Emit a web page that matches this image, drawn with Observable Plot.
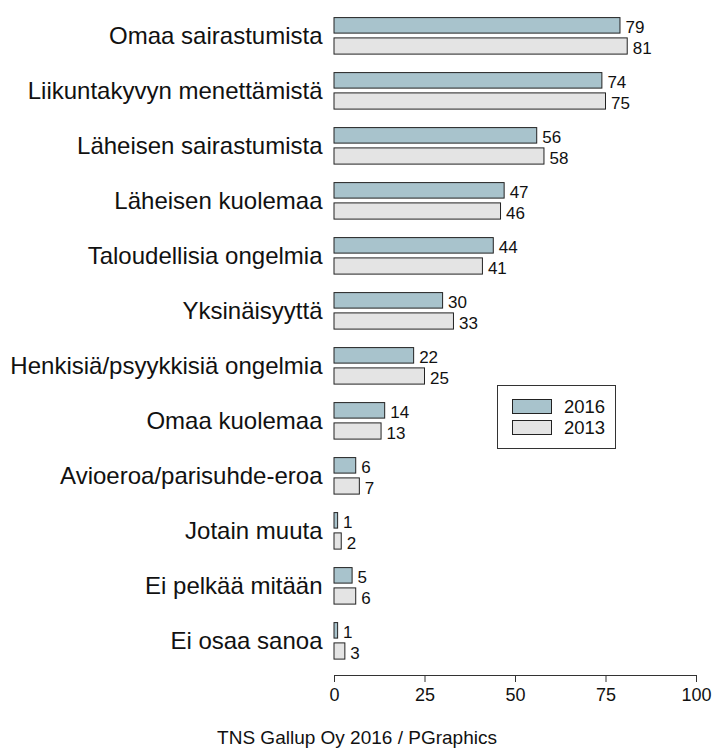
<!DOCTYPE html>
<html>
<head>
<meta charset="utf-8">
<script src="https://cdn.jsdelivr.net/npm/d3@7"></script>
<script src="https://cdn.jsdelivr.net/npm/@observablehq/plot@0.6"></script>
<style>
  html, body { margin: 0; padding: 0; background: #fff; }
  #wrap { position: relative; width: 712px; height: 752px; font-family: "Liberation Sans", Arial, Helvetica, sans-serif; color: #111; }
  #legend { position: absolute; left: 497px; top: 385px; width: 117px; height: 62px; border: 1px solid #333; background: #fff; box-sizing: content-box; }
  .lg-row { position: absolute; left: 14px; height: 15px; display: flex; align-items: center; font-size: 18.5px; }
  .lg-sw { width: 38px; height: 13px; border: 1px solid #222; margin-right: 12px; }
  #caption { position: absolute; left: 0; top: 727px; width: 714px; text-align: center; font-size: 19px; }
</style>
</head>
<body>
<div id="wrap">
  <div id="chart"></div>
  <div id="legend"></div>
  <div id="caption">TNS Gallup Oy 2016 / PGraphics</div>
</div>
<script>
const categories = [
  "Omaa sairastumista",
  "Liikuntakyvyn menettämistä",
  "Läheisen sairastumista",
  "Läheisen kuolemaa",
  "Taloudellisia ongelmia",
  "Yksinäisyyttä",
  "Henkisiä/psyykkisiä ongelmia",
  "Omaa kuolemaa",
  "Avioeroa/parisuhde-eroa",
  "Jotain muuta",
  "Ei pelkää mitään",
  "Ei osaa sanoa"
];
const values2016 = [79, 74, 56, 47, 44, 30, 22, 14, 6, 1, 5, 1];
const values2013 = [81, 75, 58, 46, 41, 33, 25, 13, 7, 2, 6, 3];
const years = ["2016", "2013"];
const colors = ["#a8c3cc", "#e4e4e4"];
const xTicks = [0, 25, 50, 75, 100];

const d2016 = categories.map((c, i) => ({category: c, year: years[0], value: values2016[i]}));
const d2013 = categories.map((c, i) => ({category: c, year: years[1], value: values2013[i]}));

const chart = Plot.plot({
  width: 712,
  height: 715,
  marginLeft: 334,
  marginRight: 16,
  marginTop: 3,
  marginBottom: 40,
  style: {fontFamily: "'Liberation Sans', Arial, Helvetica, sans-serif", color: "#111", background: "#fff"},
  x: {domain: [0, 100], ticks: xTicks, label: null},
  y: {domain: categories, padding: 0, insetBottom: 3, label: null},
  marks: [
    Plot.barX(d2016, {x: "value", y: "category", fill: colors[0], stroke: "#222", strokeWidth: 1, insetTop: 9.6, insetBottom: 29.9}),
    Plot.barX(d2013, {x: "value", y: "category", fill: colors[1], stroke: "#222", strokeWidth: 1, insetTop: 29.9, insetBottom: 8.9}),
    Plot.text(d2016, {x: "value", y: "category", text: d => String(d.value), dx: 5, dy: -8, textAnchor: "start", fontSize: 17, fill: "#111"}),
    Plot.text(d2013, {x: "value", y: "category", text: d => String(d.value), dx: 5, dy: 13, textAnchor: "start", fontSize: 17, fill: "#111"}),
    Plot.frame({anchor: "bottom", stroke: "#333"}),
    Plot.axisX({ticks: xTicks, tickSize: 7, tickPadding: 6, fontSize: 18, label: null, stroke: "#333"}),
    Plot.axisY({tickSize: 0, tickPadding: 12, fontSize: 24, label: null})
  ]
});
document.getElementById("chart").appendChild(chart);

const legend = document.getElementById("legend");
years.forEach((y, i) => {
  const row = document.createElement("div");
  row.className = "lg-row";
  row.style.top = (i === 0 ? 13 : 34) + "px";
  const sw = document.createElement("div");
  sw.className = "lg-sw";
  sw.style.background = colors[i];
  const tx = document.createElement("span");
  tx.textContent = y;
  row.appendChild(sw);
  row.appendChild(tx);
  legend.appendChild(row);
});
</script>
</body>
</html>
